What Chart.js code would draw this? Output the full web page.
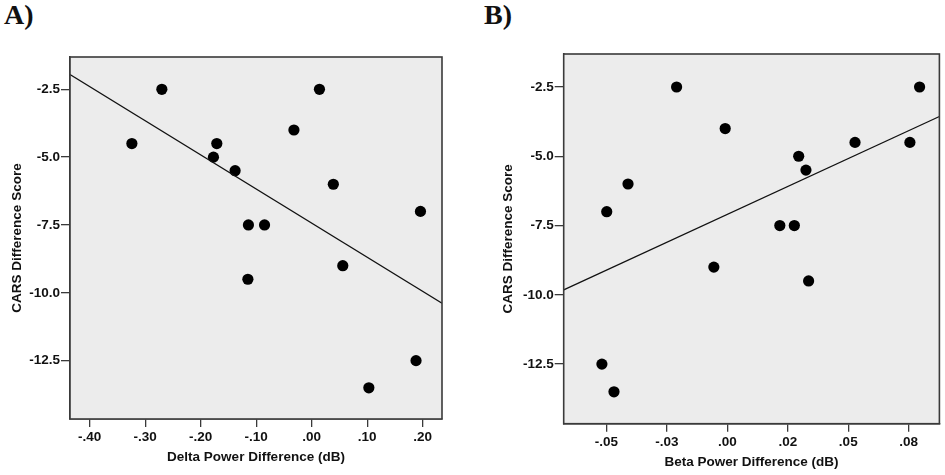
<!DOCTYPE html>
<html>
<head>
<meta charset="utf-8">
<script src="https://cdn.jsdelivr.net/npm/chart.js@4"></script>
<style>
  html, body { margin:0; padding:0; background:#fff; }
  body { width:945px; height:475px; position:relative; overflow:hidden; }
  .panel { position:absolute; top:0; height:475px; }
  .tag { position:absolute; top:0; font-family:"Liberation Serif","DejaVu Serif",serif; font-weight:bold; font-size:28px; line-height:30px; color:#111; }
</style>
</head>
<body>
<div class="tag" style="left:4px;">A)</div>
<div class="tag" style="left:484px;">B)</div>
<div class="panel" style="left:0;width:470px;"><canvas id="cA"></canvas></div>
<div class="panel" style="left:470px;width:475px;"><canvas id="cB"></canvas></div>
<script>
// ---- Data ----
const cars = [-4.5, -2.5, -4.5, -5.0, -5.5, -7.5, -7.5, -4.0, -2.5, -6.0, -7.0, -9.5, -9.0, -13.5, -12.5];
const deltaPower = [-0.324, -0.270, -0.171, -0.177, -0.138, -0.114, -0.085, -0.032, 0.014, 0.039, 0.196, -0.115, 0.056, 0.103, 0.188];

const carsB = [-2.5, -4.0, -6.0, -7.0, -5.0, -5.5, -4.5, -4.5, -2.5, -7.5, -7.5, -9.0, -9.5, -12.5, -13.5];
const betaPower = [-0.0210, -0.0009, -0.0411, -0.0499, 0.0295, 0.0325, 0.0528, 0.0755, 0.0795, 0.0217, 0.0277, -0.0056, 0.0336, -0.0519, -0.0469];

const yTickValues = [-12.5, -10.0, -7.5, -5.0, -2.5];
const yTickLabels = ['-12.5', '-10.0', '-7.5', '-5.0', '-2.5'];
const xTickValuesA = [-0.4, -0.3, -0.2, -0.1, 0.0, 0.1, 0.2];
const xTickLabelsA = ['-.40', '-.30', '-.20', '-.10', '.00', '.10', '.20'];
const xTickValuesB = [-0.05, -0.025, 0.0, 0.025, 0.05, 0.075];
const xTickLabelsB = ['-.05', '-.03', '.00', '.02', '.05', '.08'];

const yTitle = 'CARS Difference Score';
const xTitleA = 'Delta Power Difference (dB)';
const xTitleB = 'Beta Power Difference (dB)';

// ---- helpers ----
function fit(xs, ys) {
  const n = xs.length;
  const mx = xs.reduce((a, b) => a + b, 0) / n;
  const my = ys.reduce((a, b) => a + b, 0) / n;
  let sxy = 0, sxx = 0;
  for (let i = 0; i < n; i++) { sxy += (xs[i] - mx) * (ys[i] - my); sxx += (xs[i] - mx) ** 2; }
  const b = sxy / sxx;
  return { a: my - b * mx, b };
}

const framePlugin = {
  id: 'frame',
  beforeDatasetsDraw(chart) {
    const { ctx, chartArea: c } = chart;
    ctx.save();
    ctx.fillStyle = '#ececec';
    ctx.fillRect(c.left, c.top, c.right - c.left, c.bottom - c.top);
    ctx.restore();
  },
  afterDraw(chart) {
    const { ctx, chartArea: c } = chart;
    ctx.save();
    ctx.strokeStyle = '#3a3a3a';
    ctx.lineWidth = 1.6;
    ctx.strokeRect(c.left, c.top, c.right - c.left, c.bottom - c.top);
    ctx.restore();
  }
};

const tickFont = { family: '"Liberation Sans", Arial, sans-serif', size: 13.5, weight: 'bold' };

function makeChart(id, cfg) {
  const f = fit(cfg.xs, cfg.ys);
  const pts = cfg.xs.map((x, i) => ({ x, y: cfg.ys[i] }));
  const line = [
    { x: cfg.xMin, y: f.a + f.b * cfg.xMin },
    { x: cfg.xMax, y: f.a + f.b * cfg.xMax }
  ];
  return new Chart(document.getElementById(id), {
    type: 'scatter',
    data: {
      datasets: [
        { type: 'line', data: line, borderColor: '#111', borderWidth: 1.3, pointRadius: 0, fill: false, clip: 0 },
        { data: pts, backgroundColor: '#000', borderColor: '#000', pointRadius: 5.6, pointHoverRadius: 5.6, borderWidth: 0 }
      ]
    },
    plugins: [framePlugin],
    options: {
      responsive: true,
      maintainAspectRatio: false,
      animation: false,
      events: [],
      layout: { padding: { left: 0, top: cfg.padTop, right: cfg.padRight, bottom: 0 } },
      plugins: { legend: { display: false }, tooltip: { enabled: false } },
      scales: {
        x: {
          type: 'linear',
          min: cfg.xMin, max: cfg.xMax,
          afterFit: s => { s.height = cfg.xAxisH; },
          afterBuildTicks: s => { s.ticks = cfg.xTicks.map(v => ({ value: v })); },
          ticks: {
            autoSkip: false, maxRotation: 0, padding: 2,
            color: '#111', font: tickFont,
            callback: (v) => { const i = cfg.xTicks.findIndex(t => Math.abs(t - v) < 1e-9); return i >= 0 ? cfg.xLabels[i] : ''; }
          },
          grid: { drawOnChartArea: false, drawTicks: true, tickLength: 8, color: '#3a3a3a', lineWidth: 1.3 },
          border: { display: true, color: '#3a3a3a', width: 1.6 },
          title: { display: true, text: cfg.xTitle, color: '#111', font: tickFont, padding: { top: 0, bottom: cfg.xTitlePad } }
        },
        y: {
          type: 'linear',
          min: -14.65, max: -1.31,
          afterFit: s => { s.width = cfg.yAxisW; },
          afterBuildTicks: s => { s.ticks = yTickValues.map(v => ({ value: v })); },
          ticks: {
            autoSkip: false, padding: 1,
            color: '#111', font: tickFont,
            callback: (v) => { const i = yTickValues.findIndex(t => Math.abs(t - v) < 1e-9); return i >= 0 ? yTickLabels[i] : ''; }
          },
          grid: { drawOnChartArea: false, drawTicks: true, tickLength: 9, color: '#3a3a3a', lineWidth: 1.3 },
          border: { display: true, color: '#3a3a3a', width: 1.6 },
          title: { display: true, text: yTitle, color: '#111', font: tickFont, padding: { top: cfg.yTitlePad, bottom: 0 } }
        }
      }
    }
  });
}

makeChart('cA', {
  xs: deltaPower, ys: cars,
  xMin: -0.4355, xMax: 0.2348,
  xTicks: xTickValuesA, xLabels: xTickLabelsA, xTitle: xTitleA,
  padTop: 57, padRight: 28, xAxisH: 56, yAxisW: 70,
  xTitlePad: 9.2, yTitlePad: 8.9
});

makeChart('cB', {
  xs: betaPower, ys: carsB,
  xMin: -0.0677, xMax: 0.0877,
  xTicks: xTickValuesB, xLabels: xTickLabelsB, xTitle: xTitleB,
  padTop: 54, padRight: 3.3, xAxisH: 51.3, yAxisW: 93.7,
  xTitlePad: 4.2, yTitlePad: 30.2
});
</script>
</body>
</html>
